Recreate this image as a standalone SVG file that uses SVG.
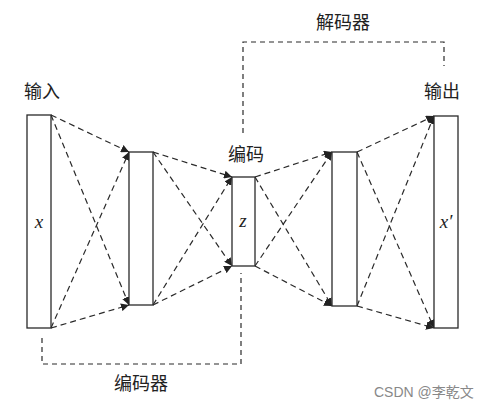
<svg xmlns="http://www.w3.org/2000/svg" width="488" height="409" viewBox="0 0 488 409">
<style>
.box{fill:#fff;stroke:#2a2a2a;stroke-width:1.3}
.c{fill:none;stroke:#2a2a2a;stroke-width:1.2;stroke-dasharray:6,4}
.b{fill:none;stroke:#2a2a2a;stroke-width:1.2;stroke-dasharray:5,4}
.lbl{font-family:"Noto Sans CJK SC",sans-serif;font-size:18px;fill:#222}
.var{font-family:"Liberation Serif",serif;font-style:italic;font-size:19px;fill:#222}
.wm{font-family:"Liberation Sans","Noto Sans CJK SC",sans-serif;font-size:14px;fill:#888}
</style>
<defs>
<marker id="ah" viewBox="0 0 10 10" refX="10" refY="5" markerWidth="8" markerHeight="8" markerUnits="userSpaceOnUse" orient="auto">
<path d="M0,0 L10,5 L0,10 z" fill="#222"/>
</marker>
</defs>
<rect width="488" height="409" fill="#fff"/>
<g id="connectors">
<path class="c" marker-end="url(#ah)" d="M51,115 L129,152"/>
<path class="c" marker-end="url(#ah)" d="M51,115 L129,305"/>
<path class="c" marker-end="url(#ah)" d="M51,328 L129,152"/>
<path class="c" marker-end="url(#ah)" d="M51,328 L129,305"/>
<path class="c" marker-end="url(#ah)" d="M153,152 L232,177"/>
<path class="c" marker-end="url(#ah)" d="M153,152 L232,266"/>
<path class="c" marker-end="url(#ah)" d="M153,305 L232,177"/>
<path class="c" marker-end="url(#ah)" d="M153,305 L232,266"/>
<path class="c" marker-end="url(#ah)" d="M255,177 L332,152"/>
<path class="c" marker-end="url(#ah)" d="M255,177 L332,306"/>
<path class="c" marker-end="url(#ah)" d="M255,266 L332,152"/>
<path class="c" marker-end="url(#ah)" d="M255,266 L332,306"/>
<path class="c" marker-end="url(#ah)" d="M357,152 L434,116"/>
<path class="c" marker-end="url(#ah)" d="M357,152 L434,328"/>
<path class="c" marker-end="url(#ah)" d="M357,306 L434,116"/>
<path class="c" marker-end="url(#ah)" d="M357,306 L434,328"/>
</g>
<g id="encoder-bracket">
<path class="b" d="M42,338 L42,364 L241,364 L241,273"/>
<text class="lbl" x="141" y="390" text-anchor="middle">编码器</text>
</g>
<g id="decoder-bracket">
<path class="b" d="M243,133 L243,42 L444,42 L444,66"/>
<text class="lbl" x="343" y="29" text-anchor="middle">解码器</text>
</g>
<g id="input">
<rect class="box" x="27" y="115" width="24" height="213"/>
<text class="var" x="39" y="228" text-anchor="middle">x</text>
<text class="lbl" x="42" y="98" text-anchor="middle">输入</text>
</g>
<g id="hidden1">
<rect class="box" x="129" y="152" width="24" height="153"/>
</g>
<g id="code">
<rect class="box" x="232" y="177" width="23" height="89"/>
<text class="var" x="243" y="227" text-anchor="middle">z</text>
<text class="lbl" x="246" y="161" text-anchor="middle">编码</text>
</g>
<g id="hidden2">
<rect class="box" x="332" y="152" width="25" height="154"/>
</g>
<g id="output">
<rect class="box" x="434" y="116" width="24" height="212"/>
<text class="var" x="446" y="228" text-anchor="middle">x′</text>
<text class="lbl" x="442" y="98" text-anchor="middle">输出</text>
</g>
<text class="wm" x="374" y="397">CSDN @李乾文</text>
</svg>
